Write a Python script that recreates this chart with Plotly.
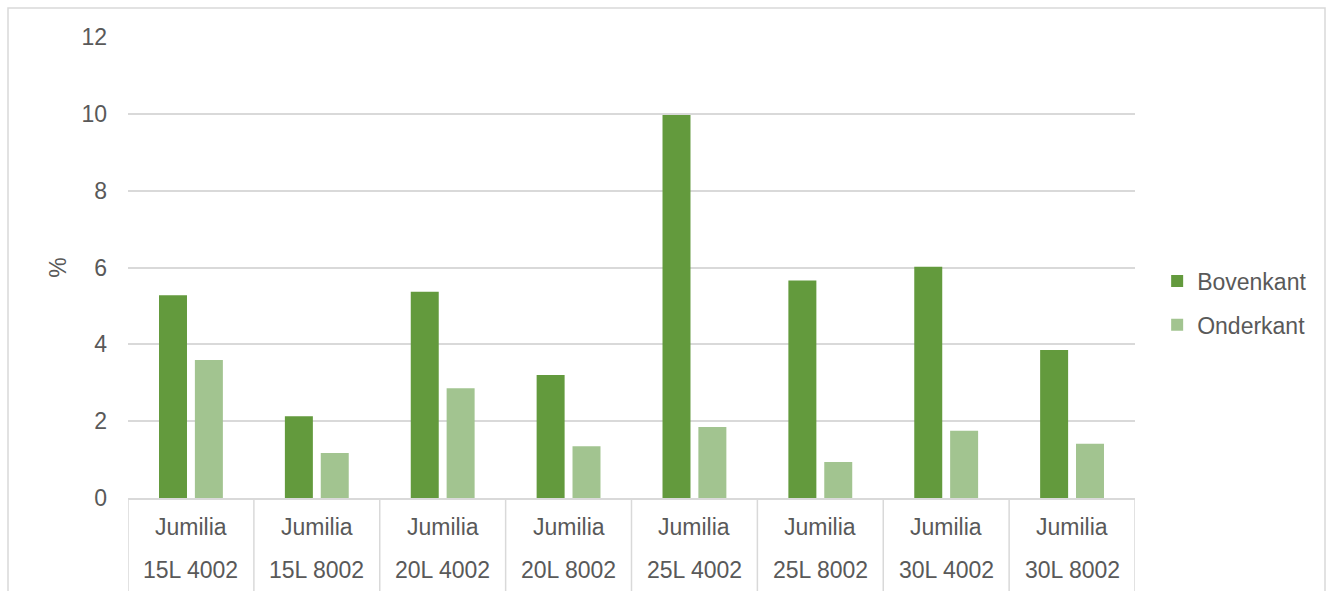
import plotly.graph_objects as go

line1 = ["Jumilia"] * 8
line2 = ["15L 4002", "15L 8002", "20L 4002", "20L 8002",
         "25L 4002", "25L 8002", "30L 4002", "30L 8002"]
categories = [f"{a} {b}" for a, b in zip(line1, line2)]
bovenkant = [5.28, 2.13, 5.37, 3.20, 9.97, 5.66, 6.02, 3.85]
onderkant = [3.59, 1.17, 2.86, 1.35, 1.85, 0.94, 1.75, 1.41]
y_ticks = [0, 2, 4, 6, 8, 10, 12]

FONT = "Liberation Sans, Arial, sans-serif"
TXT = "#595959"
GRID = "#d9d9d9"
FS = 23

x_idx = list(range(len(categories)))

fig = go.Figure()
fig.add_trace(go.Bar(x=x_idx, y=bovenkant, name="Bovenkant",
                     marker=dict(color="#639A3D", line=dict(width=0)),
                     legendgroup="a"))
fig.add_trace(go.Bar(x=x_idx, y=onderkant, name="Onderkant",
                     marker=dict(color="#A2C490", line=dict(width=0)),
                     legendgroup="b"))

shapes = []
# category separators below the axis
for i in range(len(categories) + 1):
    shapes.append(dict(type="line", xref="x", yref="paper",
                       x0=i - 0.5, x1=i - 0.5, y0=0, y1=-0.25,
                       line=dict(color=GRID, width=1.5), layer="below"))
# outer chart border
shapes.append(dict(type="rect", xref="paper", yref="paper",
                   x0=-120 / 1007, x1=1197 / 1007, y0=-0.3, y1=1 + 29 / 461,
                   line=dict(color=GRID, width=1.5), fillcolor="rgba(0,0,0,0)",
                   layer="below"))

annotations = []
for i, (a, b) in enumerate(zip(line1, line2)):
    annotations.append(dict(x=i, y=0, xref="x", yref="paper", text=a,
                            showarrow=False, yshift=-29, yanchor="middle",
                            font=dict(family=FONT, size=FS, color=TXT)))
    annotations.append(dict(x=i, y=0, xref="x", yref="paper", text=b,
                            showarrow=False, yshift=-72, yanchor="middle",
                            font=dict(family=FONT, size=FS, color=TXT)))

fig.update_layout(
    width=1338, height=591,
    margin=dict(l=128, r=203, t=37, b=93, autoexpand=False),
    paper_bgcolor="white", plot_bgcolor="white",
    barmode="group", bargap=0.43, bargroupgap=0.22,
    font=dict(family=FONT, size=FS, color=TXT),
    xaxis=dict(range=[-0.5, 7.5], showticklabels=False, showgrid=False,
               showline=True, linecolor=GRID, linewidth=1.5, zeroline=False,
               ticks=""),
    yaxis=dict(range=[0, 12], tickvals=y_ticks, showgrid=True, gridcolor=GRID,
               gridwidth=1.5, zeroline=False, showline=False, ticks="",
               ticklabelstandoff=20,
               tickfont=dict(family=FONT, size=FS, color=TXT),
               title=dict(text="%", standoff=8,
                          font=dict(family=FONT, size=FS, color=TXT))),
    legend=dict(x=1.022, y=0.423, xanchor="left", yanchor="middle",
                font=dict(family=FONT, size=FS, color=TXT),
                tracegroupgap=11, traceorder="grouped",
                bgcolor="rgba(0,0,0,0)"),
    shapes=shapes, annotations=annotations,
)

fig.write_html("out.html")
